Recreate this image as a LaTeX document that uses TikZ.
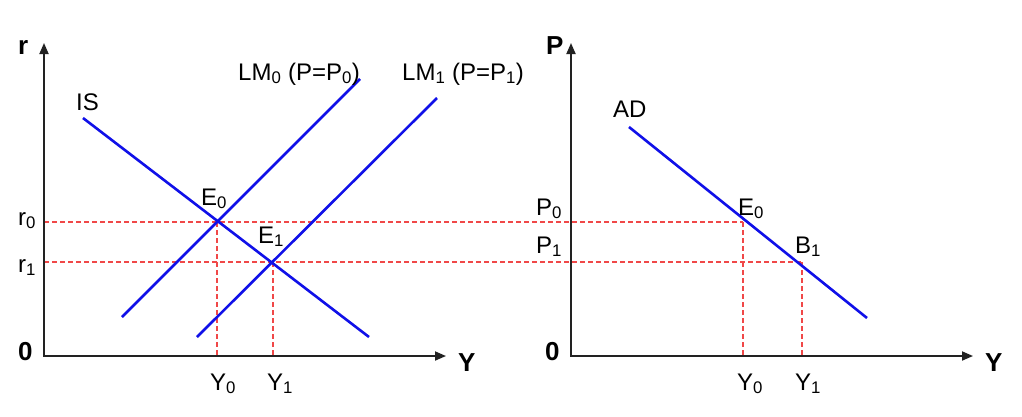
\documentclass[tikz,border=0pt]{standalone}
\usepackage{fontspec}
\setmainfont{Liberation Sans}
\usetikzlibrary{arrows.meta,positioning}
\definecolor{axisgray}{HTML}{222222}
\definecolor{curveblue}{HTML}{1010E8}
\definecolor{guidered}{HTML}{F04848}

\begin{document}
\begin{tikzpicture}[
  x=1pt, y=-1pt,
  axis/.style={
    draw=axisgray,
    line width=1.8pt,
    line join=miter,
    {Triangle[length=11pt,width=9pt]}-{Triangle[length=11pt,width=9pt]}
  },
  curve/.style={draw=curveblue, line width=2.6pt},
  guide/.style={draw=guidered, line width=1.3pt, dash pattern=on 5pt off 3pt},
  lbl/.style={anchor=base west, inner sep=0pt, font=\fontsize{24}{26}\selectfont},
  axlbl/.style={lbl, font=\fontsize{26}{28}\selectfont\bfseries}
]
\useasboundingbox (0,0) rectangle (1022,416);

% left panel: IS-LM
\coordinate (otl) at (44,43);
\coordinate (ol) at (44,356);
\coordinate (oxl) at (446,356);
\coordinate (r0) at (44,222);
\coordinate (r1) at (44,262);
\coordinate (e0l) at (217,222);
\coordinate (e1l) at (273,262);
\coordinate (y0l) at (217,356);
\coordinate (y1l) at (273,356);
\coordinate (isa) at (83,118);
\coordinate (isb) at (369,337);
\coordinate (lm0a) at (122,317);
\coordinate (lm0b) at (360,79);
\coordinate (lm1a) at (197,337);
\coordinate (lm1b) at (437,98);

% right panel: AD
\coordinate (otr) at (571,43);
\coordinate (or) at (571,356);
\coordinate (oxr) at (973,356);
\coordinate (e0r) at (743,222);
\coordinate (b1r) at (802,262);
\coordinate (y0r) at (743,356);
\coordinate (y1r) at (802,356);
\coordinate (ada) at (629,127);
\coordinate (adb) at (867,318);

\draw[guide] (r0) -- (e0r);
\draw[guide] (r1) -- (b1r);
\draw[guide] (e0l) -- (y0l);
\draw[guide] (e1l) -- (y1l);
\draw[guide] (e0r) -- (y0r);
\draw[guide] (b1r) -- (y1r);

\draw[curve] (isa) -- (isb);
\draw[curve] (lm0a) -- (lm0b);
\draw[curve] (lm1a) -- (lm1b);
\draw[curve] (ada) -- (adb);

\draw[axis] (otl) -- (ol) -- (oxl);
\draw[axis] (otr) -- (or) -- (oxr);

\node[axlbl] (rlab) at (18,54) {r};
\node[axlbl] (zl) at (18,360) {0};
\node[axlbl] (yl) at (458,371) {Y};
\node[lbl] (islab) at (76,110) {IS};
\node[lbl] (lm0lab) at (238,80) {LM\textsubscript{0} (P=P\textsubscript{0})};
\node[lbl] (lm1lab) at (402,80) {LM\textsubscript{1} (P=P\textsubscript{1})};
\node[lbl] (e0lab) at (201,205) {E\textsubscript{0}};
\node[lbl] (e1lab) at (258,243) {E\textsubscript{1}};
\node[lbl] (r0lab) at (18,225) {r\textsubscript{0}};
\node[lbl] (r1lab) at (18,272) {r\textsubscript{1}};
\node[lbl] (y0lab) at (210,390) {Y\textsubscript{0}};
\node[lbl] (y1lab) at (267,390) {Y\textsubscript{1}};

\node[axlbl] (plab) at (546,54) {P};
\node[axlbl] (zr) at (545,360) {0};
\node[axlbl] (yr) at (985,371) {Y};
\node[lbl] (adlab) at (613,117) {AD};
\node[lbl] (p0lab) at (536,215) {P\textsubscript{0}};
\node[lbl] (p1lab) at (536,253) {P\textsubscript{1}};
\node[lbl] (e0rlab) at (738,215) {E\textsubscript{0}};
\node[lbl] (b1lab) at (795,253) {B\textsubscript{1}};
\node[lbl] (y0rlab) at (737,390) {Y\textsubscript{0}};
\node[lbl] (y1rlab) at (795,390) {Y\textsubscript{1}};
\end{tikzpicture}
\end{document}
